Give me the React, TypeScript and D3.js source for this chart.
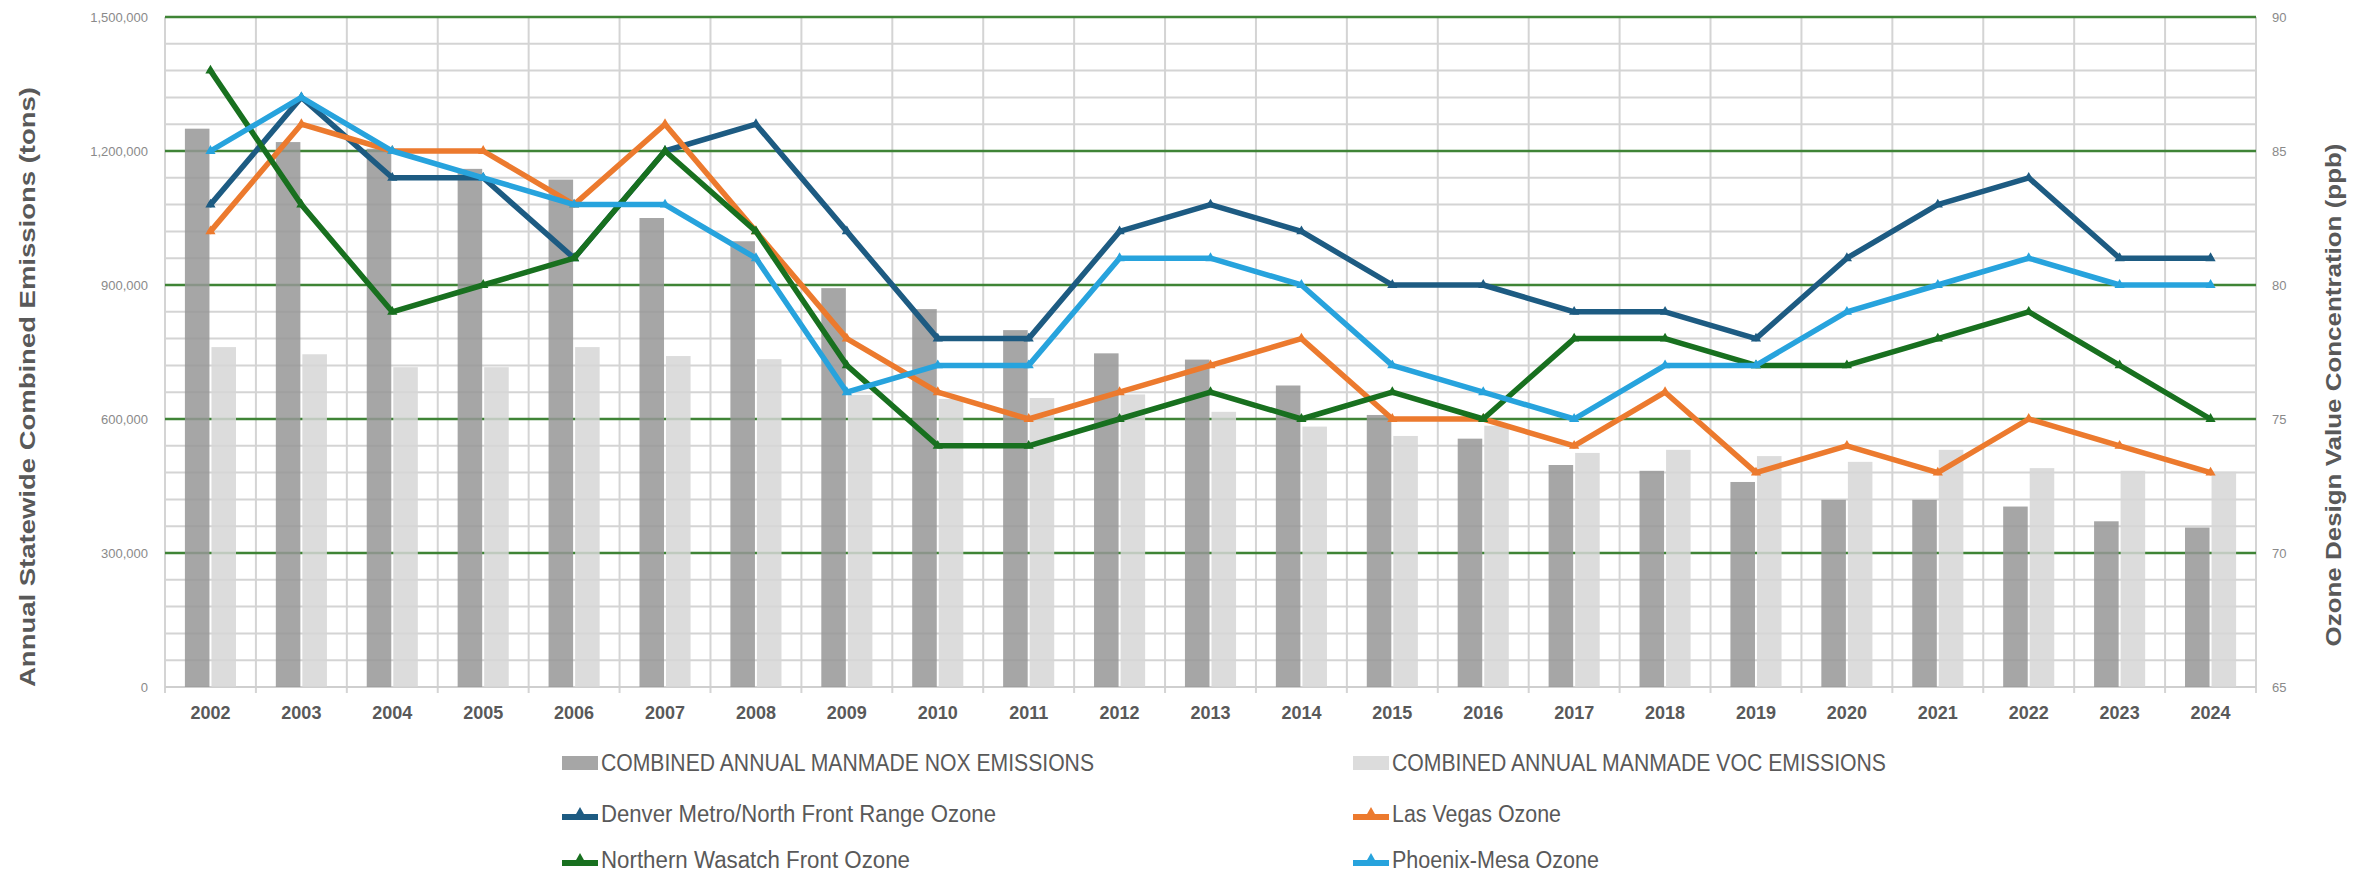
import React from 'react';
import * as d3 from 'd3';

const years = ['2002', '2003', '2004', '2005', '2006', '2007', '2008', '2009', '2010', '2011', '2012', '2013',
  '2014', '2015', '2016', '2017', '2018', '2019', '2020', '2021', '2022', '2023', '2024'];

const noxEmissions = [1250000, 1220000, 1205000, 1160000, 1136000, 1050000, 998000, 893000, 846000, 799000, 747000,
  733000, 675000, 609000, 556000, 497000, 484000, 459000, 419000, 419000, 404000, 371000, 357000];
const vocEmissions = [761000, 745000, 716000, 716000, 761000, 741000, 734000, 654000, 645000, 647000, 655000,
  616000, 583000, 562000, 585000, 524000, 531000, 517000, 504000, 531000, 490000, 484000, 482000];

const denverOzone = [83, 87, 84, 84, 81, 85, 86, 82, 78, 78, 82, 83, 82, 80, 80, 79, 79, 78, 81, 83, 84, 81, 81];
const lasVegasOzone = [82, 86, 85, 85, 83, 86, 82, 78, 76, 75, 76, 77, 78, 75, 75, 74, 76, 73, 74, 73, 75, 74, 73];
const wasatchOzone = [88, 83, 79, 80, 81, 85, 82, 77, 74, 74, 75, 76, 75, 76, 75, 78, 78, 77, 77, 78, 79, 77, 75];
const phoenixOzone = [85, 87, 85, 84, 83, 83, 81, 76, 77, 77, 81, 81, 80, 77, 76, 75, 77, 77, 79, 80, 81, 80, 80];

const leftTicks = [0, 300000, 600000, 900000, 1200000, 1500000];
const rightTicks = [65, 70, 75, 80, 85, 90];

const barSeries = [
  { key: 'nox', name: 'COMBINED ANNUAL MANMADE NOX EMISSIONS', values: noxEmissions, color: '#969696' },
  { key: 'voc', name: 'COMBINED ANNUAL MANMADE VOC EMISSIONS', values: vocEmissions, color: '#d6d6d6' },
];

const lineSeries = [
  { name: 'Denver Metro/North Front Range Ozone', values: denverOzone, color: '#1d5b82' },
  { name: 'Las Vegas Ozone', values: lasVegasOzone, color: '#ec7a2e' },
  { name: 'Northern Wasatch Front Ozone', values: wasatchOzone, color: '#18701f' },
  { name: 'Phoenix-Mesa Ozone', values: phoenixOzone, color: '#27a3dd' },
];

const W = 2371;
const H = 876;
const plot = { left: 165, right: 2256, top: 17, bottom: 687 };
const font = '"Liberation Sans", Arial, sans-serif';
const textGray = '#595959';

export default function App() {
  const x = d3.scaleBand().domain(years).range([plot.left, plot.right]);
  const inner = d3.scaleBand().domain(barSeries.map((s) => s.key))
    .range([0, x.bandwidth()]).paddingInner(0.075).paddingOuter(0.75);
  const yLeft = d3.scaleLinear().domain([0, 1500000]).range([plot.bottom, plot.top]);
  const yRight = d3.scaleLinear().domain([65, 90]).range([plot.bottom, plot.top]);
  const fmt = d3.format(',');

  const minorTicks = d3.range(65, 90.5, 1);
  const cx = (year) => (x(year) ?? 0) + x.bandwidth() / 2;
  const line = d3.line<number>()
    .x((_, i) => cx(years[i]))
    .y((v) => yRight(v));
  const tri = d3.symbol(d3.symbolTriangle, 45);

  // legend layout: two columns, three rows
  const legendRows = [763, 814, 860];
  const legendCols = [562, 1353];
  const legendWidths = [493, 494, 395, 169, 309, 207];
  const legendItems = [
    { type: 'bar', s: barSeries[0] }, { type: 'bar', s: barSeries[1] },
    { type: 'line', s: lineSeries[0] }, { type: 'line', s: lineSeries[1] },
    { type: 'line', s: lineSeries[2] }, { type: 'line', s: lineSeries[3] },
  ];

  return (
    <div style={{ position: 'absolute', left: 0, top: 0, background: '#fff' }}>
      <svg width={W} height={H} viewBox={`0 0 ${W} ${H}`} style={{ display: 'block', fontFamily: font }}>
        <rect width={W} height={H} fill="#fff" />

        {/* minor horizontal grid */}
        {minorTicks.map((t) => (
          <line key={`m${t}`} x1={plot.left} x2={plot.right} y1={yRight(t)} y2={yRight(t)}
            stroke="#d4d4d4" strokeWidth={2} />
        ))}
        {/* vertical grid at category boundaries */}
        {years.map((yr) => (
          <line key={`v${yr}`} x1={x(yr)} x2={x(yr)} y1={plot.top} y2={plot.bottom + 6}
            stroke="#d4d4d4" strokeWidth={2} />
        ))}
        <line x1={plot.right} x2={plot.right} y1={plot.top} y2={plot.bottom + 6} stroke="#d4d4d4" strokeWidth={2} />

        {/* major grid */}
        {leftTicks.slice(1).map((t) => (
          <line key={`g${t}`} x1={plot.left} x2={plot.right} y1={yLeft(t)} y2={yLeft(t)}
            stroke="#3f8436" strokeWidth={2.5} />
        ))}
        <line x1={plot.left} x2={plot.right} y1={plot.bottom} y2={plot.bottom} stroke="#cfcfcf" strokeWidth={2} />

        {/* bars */}
        {barSeries.map((s) => (
          <g key={s.key} fill={s.color} fillOpacity={0.85}>
            {s.values.map((v, i) => (
              <rect key={years[i]} x={(x(years[i]) ?? 0) + (inner(s.key) ?? 0)} y={yLeft(v)}
                width={inner.bandwidth()} height={plot.bottom - yLeft(v)} />
            ))}
          </g>
        ))}

        {/* ozone lines */}
        {lineSeries.map((s) => (
          <g key={s.name}>
            <path d={line(s.values) ?? ''} fill="none" stroke={s.color} strokeWidth={5.5}
              strokeLinejoin="round" strokeLinecap="round" />
            {s.values.map((v, i) => (
              <path key={i} d={tri() ?? ''} transform={`translate(${cx(years[i])},${yRight(v)})`} fill={s.color} />
            ))}
          </g>
        ))}

        {/* left axis labels */}
        {leftTicks.map((t) => (
          <text key={`l${t}`} x={148} y={yLeft(t)} textAnchor="end" dominantBaseline="central"
            fontSize={13} fill="#8a8a8a">{fmt(t)}</text>
        ))}
        {/* right axis labels */}
        {rightTicks.map((t) => (
          <text key={`r${t}`} x={2272} y={yRight(t)} dominantBaseline="central"
            fontSize={13} fill="#8a8a8a">{t}</text>
        ))}
        {/* x labels */}
        {years.map((yr) => (
          <text key={`x${yr}`} x={cx(yr)} y={713} textAnchor="middle" dominantBaseline="central"
            fontSize={18} fontWeight="bold" fill={textGray}>{yr}</text>
        ))}

        {/* axis titles */}
        <text transform="translate(27,387) rotate(-90)" textAnchor="middle" dominantBaseline="central"
          fontSize={22} fontWeight="bold" fill={textGray} textLength={600} lengthAdjust="spacingAndGlyphs">
          Annual Statewide Combined Emissions (tons)
        </text>
        <text transform="translate(2333,395) rotate(-90)" textAnchor="middle" dominantBaseline="central"
          fontSize={22} fontWeight="bold" fill={textGray} textLength={503} lengthAdjust="spacingAndGlyphs">
          Ozone Design Value Concentration (ppb)
        </text>

        {/* legend */}
        {legendItems.map((item, i) => {
          const lx = legendCols[i % 2];
          const ly = legendRows[Math.floor(i / 2)];
          return (
            <g key={item.s.name}>
              {item.type === 'bar' ? (
                <rect x={lx} y={ly - 7} width={36} height={14} fill={item.s.color} fillOpacity={0.85} />
              ) : (
                <g>
                  <line x1={lx} x2={lx + 36} y1={ly + 3} y2={ly + 3} stroke={item.s.color} strokeWidth={6} />
                  <path d={tri() ?? ''} transform={`translate(${lx + 18},${ly - 1})`} fill={item.s.color} />
                </g>
              )}
              <text x={lx + 39} y={ly} dominantBaseline="central" fontSize={23} fill={textGray}
                textLength={legendWidths[i]} lengthAdjust="spacingAndGlyphs">{item.s.name}</text>
            </g>
          );
        })}
      </svg>
    </div>
  );
}
